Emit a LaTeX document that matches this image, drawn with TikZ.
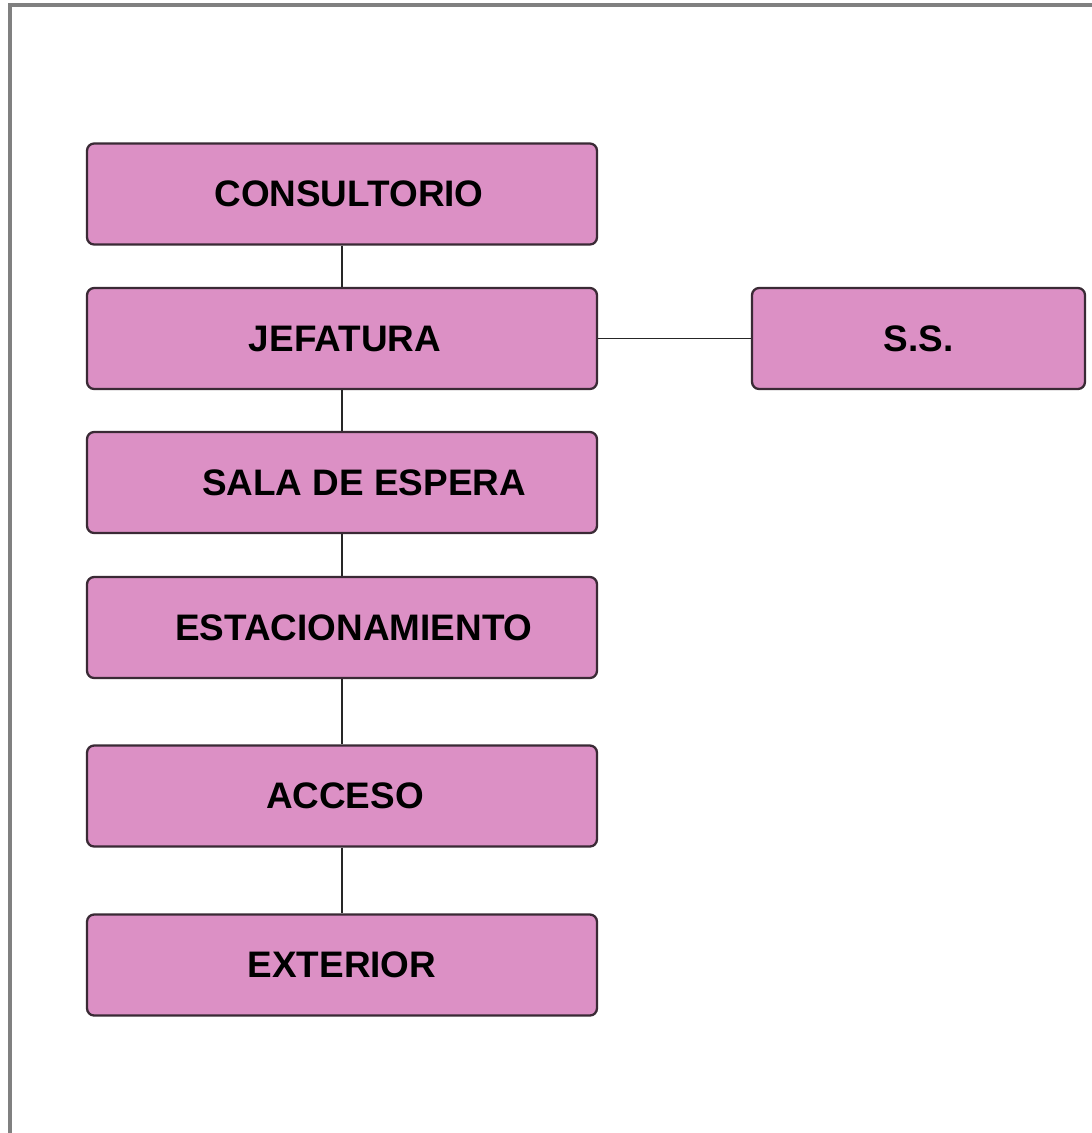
\documentclass[tikz,border=0pt]{standalone}
\usepackage{fontspec}
\setmainfont{Liberation Sans}
\definecolor{boxfill}{HTML}{DC90C5}
\definecolor{boxedge}{HTML}{3A2A35}
\definecolor{frame}{HTML}{808080}
\begin{document}
\begin{tikzpicture}[x=0.02cm,y=-0.02cm,
  room/.style={draw=boxedge,fill=boxfill,line width=1.3pt,rounded corners=4pt,
    minimum width=10.2cm,minimum height=2.02cm,inner sep=0pt,
    font=\fontsize{21}{24}\selectfont\bfseries},
  link/.style={draw=black!85,line width=1.1pt}]
\useasboundingbox (0,0) rectangle (1092,1133);
\fill[white] (0,0) rectangle (1092,1133);
\draw[frame,line width=0.08cm] (10,1133) -- (10,5) -- (1092,5);
\node[room] (cons) at (342,194) {\hspace{0.28cm}CONSULTORIO\raisebox{0pt}{}};
\node[room] (jef) at (342,338.5) {\hspace{0.12cm}JEFATURA};
\node[room] (sala) at (342,482.5) {\hspace{0.88cm}SALA DE ESPERA};
\node[room] (est) at (342,627.5) {\hspace{0.48cm}ESTACIONAMIENTO};
\node[room] (acc) at (342,796) {\hspace{0.12cm}ACCESO};
\node[room] (ext) at (342,965) {EXTERIOR};
\node[room,minimum width=6.66cm] (ss) at (918.5,338.5) {S.S.};
\draw[link] (cons) -- (jef);
\draw[link] (jef) -- (sala);
\draw[link] (sala) -- (est);
\draw[link] (est) -- (acc);
\draw[link] (acc) -- (ext);
\draw[link] (jef) -- (ss);
\end{tikzpicture}
\end{document}
